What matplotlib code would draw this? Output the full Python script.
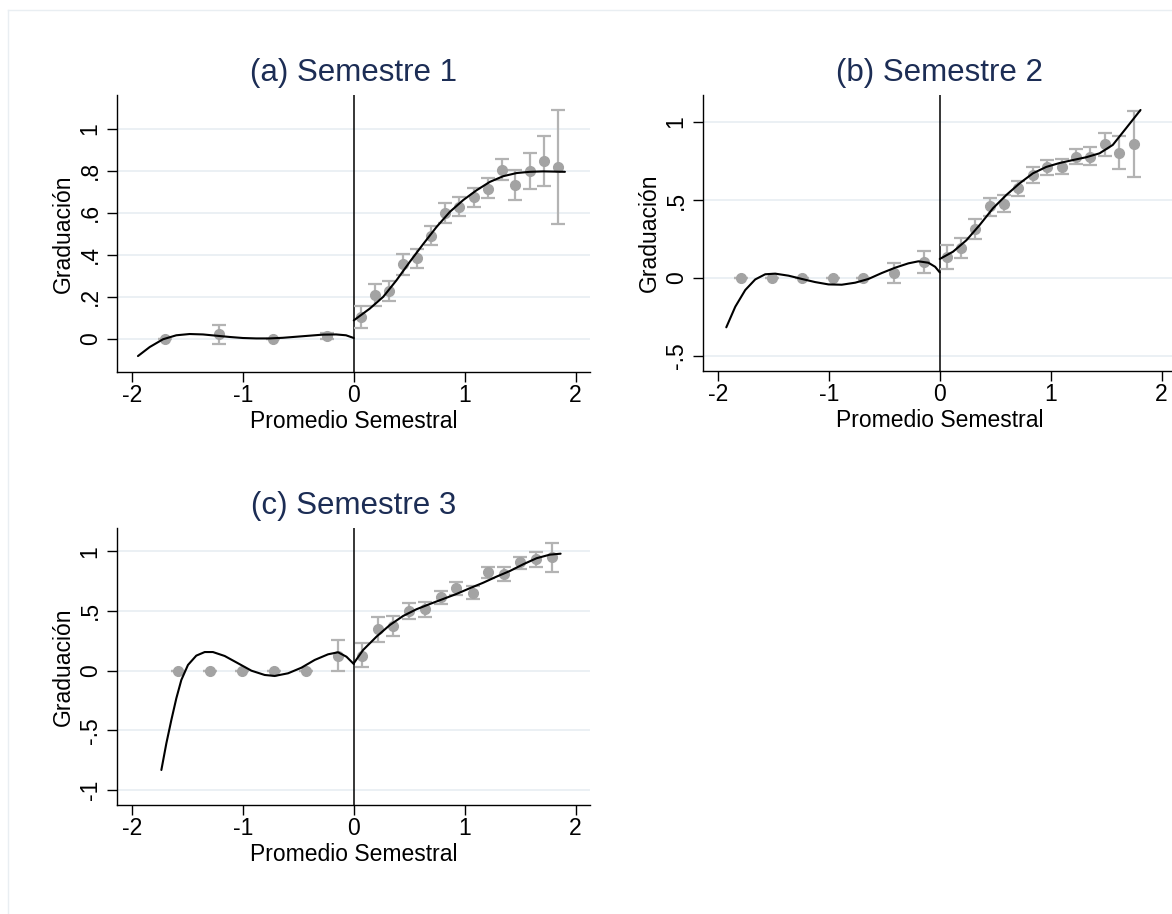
import numpy as np
import matplotlib.pyplot as plt
from matplotlib.lines import Line2D

plt.rcParams['font.family'] = ['Liberation Sans', 'DejaVu Sans']

# ---- Panel (a) Semestre 1 ----
a_x = [-1.70, -1.215, -0.73, -0.24,
       0.063, 0.19, 0.32, 0.445, 0.574, 0.70, 0.827, 0.947, 1.08, 1.206,
       1.335, 1.456, 1.588, 1.711, 1.84]
a_y = [0.0, 0.024, 0.0, 0.013,
       0.103, 0.207, 0.227, 0.355, 0.382, 0.49, 0.598, 0.628, 0.676, 0.711,
       0.803, 0.731, 0.80, 0.846, 0.819]
a_lo = [0.0, -0.024, 0.0, -0.003,
        0.052, 0.154, 0.180, 0.305, 0.335, 0.445, 0.553, 0.583, 0.628, 0.668,
        0.755, 0.663, 0.711, 0.728, 0.548]
a_hi = [0.0, 0.064, 0.0, 0.029,
        0.156, 0.258, 0.275, 0.402, 0.429, 0.537, 0.645, 0.676, 0.720, 0.766,
        0.855, 0.803, 0.885, 0.967, 1.089]
a_fit_left_x = [-1.946, -1.84, -1.72, -1.60, -1.48, -1.36, -1.24, -1.12, -1.0,
                -0.88, -0.76, -0.64, -0.52, -0.40, -0.28, -0.16, -0.07, 0.0]
a_fit_left_y = [-0.083, -0.040, -0.003, 0.016, 0.022, 0.020, 0.014, 0.008, 0.003,
                0.001, 0.001, 0.004, 0.009, 0.014, 0.019, 0.020, 0.016, 0.003]
a_fit_right_x = [0.0, 0.144, 0.265, 0.385, 0.505, 0.625, 0.746, 0.866, 0.986,
                 1.107, 1.227, 1.347, 1.468, 1.588, 1.708, 1.904]
a_fit_right_y = [0.087, 0.143, 0.199, 0.278, 0.366, 0.45, 0.532, 0.604, 0.66,
                 0.707, 0.747, 0.774, 0.789, 0.795, 0.797, 0.795]

# ---- Panel (b) Semestre 2 ----
b_x = [-1.793, -1.513, -1.24, -0.967, -0.694, -0.414, -0.138,
       0.066, 0.192, 0.321, 0.453, 0.58, 0.709, 0.838, 0.967, 1.099, 1.228,
       1.357, 1.486, 1.619, 1.748]
b_y = [0.0, 0.0, 0.0, 0.0, 0.0, 0.032, 0.103,
       0.132, 0.190, 0.312, 0.462, 0.474, 0.575, 0.662, 0.709, 0.714, 0.778,
       0.774, 0.857, 0.803, 0.857]
b_lo = [0.0, 0.0, 0.0, 0.0, 0.0, -0.034, 0.030,
        0.058, 0.126, 0.25, 0.40, 0.421, 0.526, 0.611, 0.662, 0.665, 0.729,
        0.722, 0.784, 0.701, 0.647]
b_hi = [0.0, 0.0, 0.0, 0.0, 0.0, 0.096, 0.173,
        0.209, 0.256, 0.378, 0.515, 0.534, 0.624, 0.709, 0.756, 0.765, 0.829,
        0.838, 0.927, 0.910, 1.071]
b_fit_left_x = [-1.925, -1.844, -1.754, -1.664, -1.574, -1.484, -1.364, -1.244,
                -1.124, -1.004, -0.884, -0.763, -0.643, -0.523, -0.403, -0.283,
                -0.193, -0.103, -0.042, 0.0]
b_fit_left_y = [-0.316, -0.184, -0.077, -0.009, 0.024, 0.028, 0.015, -0.006,
                -0.026, -0.041, -0.043, -0.030, -0.006, 0.032, 0.066, 0.094,
                0.107, 0.098, 0.072, 0.036]
b_fit_right_x = [0.0, 0.12, 0.24, 0.36, 0.48, 0.60, 0.72, 0.84, 0.96, 1.08,
                 1.20, 1.32, 1.44, 1.56, 1.68, 1.81]
b_fit_right_y = [0.122, 0.169, 0.242, 0.34, 0.447, 0.532, 0.607, 0.671, 0.712,
                 0.737, 0.756, 0.774, 0.799, 0.853, 0.96, 1.077]

# ---- Panel (c) Semestre 3 ----
c_x = [-1.588, -1.296, -1.008, -0.722, -0.433, -0.144,
       0.072, 0.214, 0.355, 0.50, 0.644, 0.782, 0.926, 1.074, 1.212, 1.356,
       1.50, 1.642, 1.783]
c_y = [0.0, 0.0, 0.0, 0.0, 0.0, 0.126,
       0.126, 0.346, 0.374, 0.502, 0.513, 0.614, 0.689, 0.653, 0.823, 0.806,
       0.909, 0.934, 0.948]
c_lo = [0.0, 0.0, 0.0, 0.0, 0.0, 0.0,
        0.028, 0.237, 0.293, 0.432, 0.452, 0.558, 0.636, 0.600, 0.775, 0.748,
        0.854, 0.870, 0.828]
c_hi = [0.0, 0.0, 0.0, 0.0, 0.0, 0.257,
        0.232, 0.446, 0.457, 0.569, 0.575, 0.669, 0.739, 0.709, 0.868, 0.865,
        0.951, 0.996, 1.066]
c_fit_left_x = [-1.735, -1.69, -1.645, -1.60, -1.555, -1.495, -1.42, -1.344,
                -1.27, -1.164, -1.044, -0.923, -0.803, -0.713, -0.593, -0.472,
                -0.352, -0.232, -0.142, -0.066, 0.0]
c_fit_left_y = [-0.831, -0.608, -0.413, -0.231, -0.078, 0.048, 0.126, 0.156,
                0.156, 0.123, 0.062, 0.0, -0.036, -0.044, -0.022, 0.025,
                0.09, 0.137, 0.154, 0.117, 0.056]
c_fit_right_x = [0.0, 0.084, 0.205, 0.325, 0.445, 0.565, 0.686, 0.806, 0.926,
                 1.046, 1.167, 1.287, 1.407, 1.527, 1.648, 1.768, 1.865]
c_fit_right_y = [0.062, 0.173, 0.285, 0.382, 0.458, 0.514, 0.558, 0.60, 0.642,
                 0.69, 0.736, 0.787, 0.834, 0.89, 0.941, 0.971, 0.979]

x_ticks = [-2, -1, 0, 1, 2]

panels = [
    dict(title="(a) Semestre 1", x=a_x, y=a_y, lo=a_lo, hi=a_hi,
         fl=(a_fit_left_x, a_fit_left_y), fr=(a_fit_right_x, a_fit_right_y),
         rect=[117, 95, 473, 277], ylim=(-0.159, 1.161),
         yticks=[0, 0.2, 0.4, 0.6, 0.8, 1],
         ylabels=["0", ".2", ".4", ".6", ".8", "1"]),
    dict(title="(b) Semestre 2", x=b_x, y=b_y, lo=b_lo, hi=b_hi,
         fl=(b_fit_left_x, b_fit_left_y), fr=(b_fit_right_x, b_fit_right_y),
         rect=[703, 95, 473, 276], ylim=(-0.596, 1.173),
         yticks=[-0.5, 0, 0.5, 1],
         ylabels=["-.5", "0", ".5", "1"]),
    dict(title="(c) Semestre 3", x=c_x, y=c_y, lo=c_lo, hi=c_hi,
         fl=(c_fit_left_x, c_fit_left_y), fr=(c_fit_right_x, c_fit_right_y),
         rect=[117, 528, 473, 277], ylim=(-1.124, 1.194),
         yticks=[-1, -0.5, 0, 0.5, 1],
         ylabels=["-1", "-.5", "0", ".5", "1"]),
]

W, H = 1172, 914
fig = plt.figure(figsize=(W / 100, H / 100), dpi=100)

# faint outer frame (left and top edges visible)
fig.add_artist(Line2D([8 / W, 8 / W], [0, 1 - 10 / H], transform=fig.transFigure,
                      color="#e9eef2", lw=1))
fig.add_artist(Line2D([8 / W, 1], [1 - 10 / H, 1 - 10 / H], transform=fig.transFigure,
                      color="#e9eef2", lw=1))

for p in panels:
    l, t, w, h = p["rect"]
    ax = fig.add_axes([l / W, 1 - (t + h) / H, w / W, h / H])
    y = np.array(p["y"])
    err = [y - np.array(p["lo"]), np.array(p["hi"]) - y]
    for yt in p["yticks"]:
        ax.axhline(yt, color="#e9eff3", lw=1.3, zorder=0)
    ax.axvline(0, color="black", lw=1.1, zorder=1)
    ax.errorbar(p["x"], y, yerr=err, fmt="o", color="#a3a3a3", ecolor="#b3b3b3",
                elinewidth=1.6, capsize=5, capthick=1.6, markersize=7, zorder=2)
    for fx, fy in (p["fl"], p["fr"]):
        ax.plot(fx, fy, color="black", lw=1.5, zorder=3,
                solid_joinstyle="round", solid_capstyle="round")

    ax.set_xlim(-2.135, 2.13)
    ax.set_ylim(*p["ylim"])
    ax.set_xticks(x_ticks)
    ax.set_xticklabels([str(v) for v in x_ticks])
    ax.set_yticks(p["yticks"])
    ax.set_yticklabels(p["ylabels"], rotation=90, va="center")
    ax.tick_params(labelsize=16.5, length=7, width=1)
    ax.tick_params(axis="x", pad=1.5)
    ax.tick_params(axis="y", pad=4)
    for s in ["top", "right"]:
        ax.spines[s].set_visible(False)
    for s in ["left", "bottom"]:
        ax.spines[s].set_linewidth(1)
    ax.set_xlabel("Promedio Semestral", fontsize=16.5, labelpad=2)
    ax.set_ylabel("Graduación", fontsize=16.5, labelpad=3)
    ax.set_title(p["title"], fontsize=22.5, color="#1c2d55", pad=10)

fig.savefig("out.png", dpi=100)
